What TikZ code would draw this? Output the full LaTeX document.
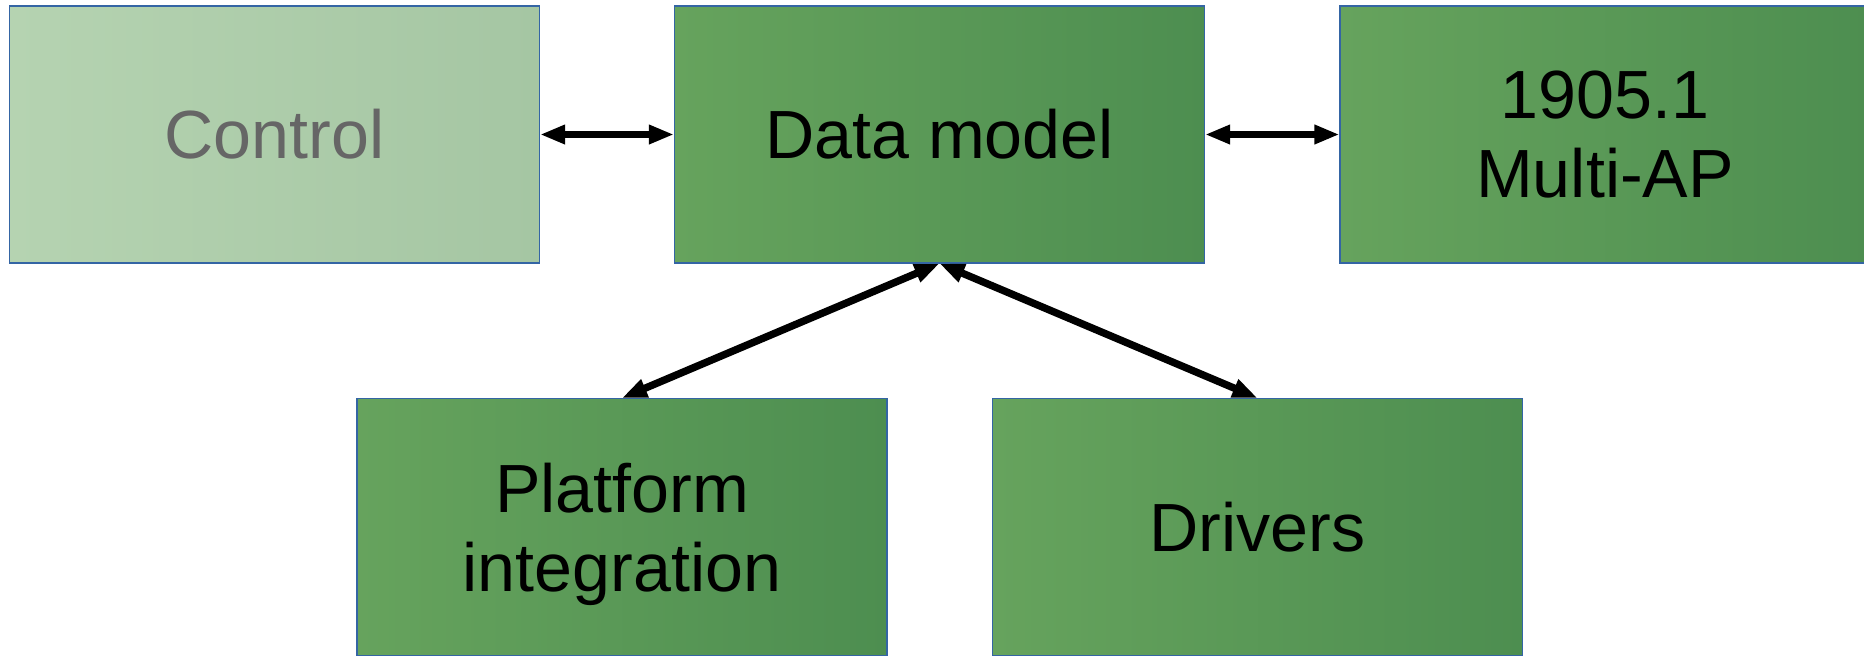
\documentclass[tikz,border=0pt]{standalone}
\usepackage{fontspec}
\setmainfont{Liberation Sans}
\usepackage{tikz}
\usetikzlibrary{arrows.meta}
\definecolor{boxleft}{RGB}{102,163,93}
\definecolor{boxright}{RGB}{77,142,80}
\definecolor{fadeleft}{RGB}{181,211,177}
\definecolor{faderight}{RGB}{165,198,163}
\definecolor{boxline}{RGB}{52,101,164}
\definecolor{fadetext}{RGB}{102,102,102}
\tikzset{
    block/.style={draw=boxline, line width=0.3pt, left color=boxleft, right color=boxright,
        minimum width=5.3cm, minimum height=2.57cm, align=center, inner sep=0pt,
        font=\fontsize{19.4}{22.5}\selectfont},
    fadedblock/.style={block, left color=fadeleft, right color=faderight, text=fadetext},
    link/.style={draw=black, line width=2.1pt, {Triangle[length=0.25cm,width=0.18cm]}-{Triangle[length=0.25cm,width=0.18cm]}},
}

\begin{document}
\begin{tikzpicture}
	\useasboundingbox (0,0) rectangle (18.64,6.57);
	% top row
	\node[fadedblock] (control) at (2.745,5.225) {Control};
	\node[block] (datamodel) at (9.395,5.225) {Data model};
	\node[block] (multiap) at (16.05,5.225) {1905.1\\Multi-AP};
	% bottom row
	\node[block, text depth=0pt] (platform) at (6.22,1.30) {Platform\\integration};
	\node[block] (drivers) at (12.575,1.30) {Drivers};
	\draw[link] (control) -- (datamodel);
	\draw[link] (datamodel) -- (multiap);
	\draw[link] (datamodel.south) -- (platform.north);
	\draw[link] (datamodel.south) -- (drivers.north);
\end{tikzpicture}
\end{document}
